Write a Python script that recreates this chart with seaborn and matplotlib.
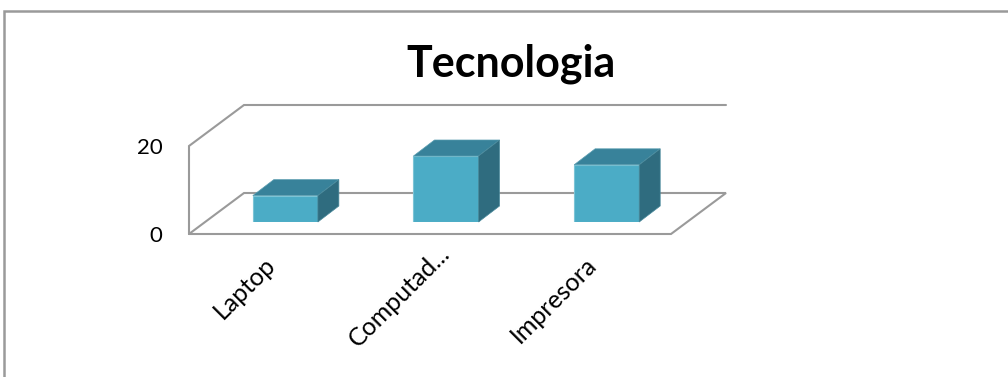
import matplotlib
matplotlib.use("Agg")
import matplotlib.pyplot as plt
import seaborn as sns
from matplotlib.patches import Polygon, Rectangle
from matplotlib.lines import Line2D

categories = ["Laptop", "Computad...", "Impresora"]
values = [6, 15, 13]
y_ticks = [0, 20]
chart_title = "Tecnologia"

W, H = 1008, 377

sns.set_theme(style="white")
plt.rcParams["font.family"] = ["Lato", "DejaVu Sans"]

fig = plt.figure(figsize=(W / 100, H / 100), dpi=100, facecolor="white")


def px_axes(left, right, top, bottom):
    return fig.add_axes([left / W, 1 - bottom / H, (right - left) / W, (bottom - top) / H])


# outer chart frame
fig.add_artist(Rectangle((3.5 / W, -0.1), 1.1, 1 - 10.5 / H + 0.1, transform=fig.transFigure,
                         fill=False, ec="#9a9a9a", lw=1.8))

# front plane, holds the axis labels
ax = px_axes(189, 671, 146, 234)
ax.set_xlim(-0.5, 2.5)
ax.set_ylim(0, 20)
ax.patch.set_alpha(0)
sns.despine(ax=ax, left=True, bottom=True)
ax.set_yticks(y_ticks)
ax.set_yticklabels([str(t) for t in y_ticks], fontsize=16, color="black")
ax.set_xticks([])
ax.tick_params(axis="both", length=0)
ax.tick_params(axis="y", pad=19)

# the long truncated label sits further up and right than the other two, offsets in px
label_shift = [(-6, -19), (8, -7), (-6, -19)]
for i, name in enumerate(categories):
    sx, sy = label_shift[i]
    ax.annotate(name, xy=(i, 0), xytext=(sx * 0.72, sy * 0.72), textcoords="offset points",
                rotation=45, ha="right", va="top", rotation_mode="anchor",
                fontsize=18, color="black", annotation_clip=False)

# walls and floor in pixels, depth goes up and to the right
wall_pts = [
    [(189, 234), (189, 146), (244, 105), (726, 105)],
    [(189, 234), (671, 234), (726, 193), (244, 193), (189, 234)],
]
for pts in wall_pts:
    fig.add_artist(Line2D([p[0] / W for p in pts], [1 - p[1] / H for p in pts],
                          transform=fig.transFigure, color="#9a9a9a", lw=1.5,
                          solid_joinstyle="miter", zorder=1))

# bars sit on a plane shifted into the chart
bar_ax = px_axes(205, 687, 134, 222)
bar_ax.patch.set_alpha(0)
bar_ax.set_zorder(3)
sns.barplot(x=categories, y=values, color="#4BACC6", saturation=1, width=0.405, ax=bar_ax)
bar_ax.set_xlim(-0.5, 2.5)
bar_ax.set_ylim(0, 20)
bar_ax.axis("off")

dx = 21 / (482 / 3)
dy = 16 / 4.4
for bar in list(bar_ax.patches):
    x0, x1 = bar.get_x(), bar.get_x() + bar.get_width()
    h = bar.get_height()
    bar.set_edgecolor("#7cc4d6")
    bar.set_linewidth(0.8)
    bar_ax.add_patch(Polygon([(x0, h), (x1, h), (x1 + dx, h + dy), (x0 + dx, h + dy)],
                             fc="#38829A", ec="#5a9db0", lw=0.5, clip_on=False))
    bar_ax.add_patch(Polygon([(x1, 0), (x1 + dx, dy), (x1 + dx, h + dy), (x1, h)],
                             fc="#2F6C7F", ec="#4a8a9c", lw=0.5, clip_on=False))

fig.text(511 / W, 1 - 64 / H, chart_title, ha="center", va="center",
         fontsize=31, fontweight="bold", color="black")

fig.savefig("out.png", dpi=100)
